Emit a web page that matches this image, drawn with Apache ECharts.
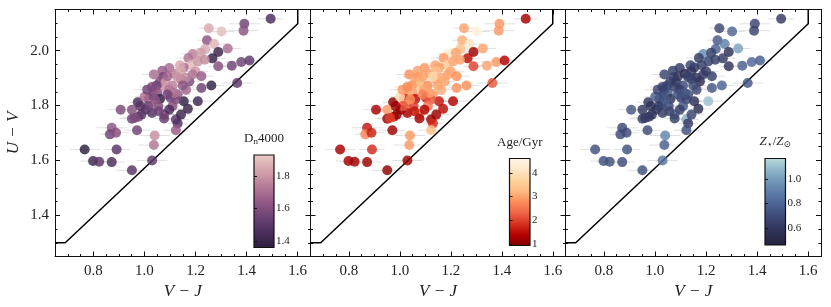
<!DOCTYPE html>
<html><head><meta charset="utf-8">
<script src="https://cdn.jsdelivr.net/npm/echarts@6/dist/echarts.min.js"></script>
<style>html,body{margin:0;padding:0;background:#fff}#c{width:831px;height:307px}</style>
</head><body><div id="c"></div>
<script>
// V-J colour of each galaxy
const vj = [1.494,1.391,1.252,1.302,1.388,1.245,1.273,1.238,1.326,1.289,
 1.266,1.189,1.220,1.172,1.342,1.379,1.411,1.183,1.154,1.139,
 1.097,1.070,1.117,1.143,1.073,1.060,1.083,1.110,1.077,1.097,
 1.143,1.176,1.163,1.223,1.262,1.363,1.048,1.030,1.017,1.050,
 1.061,1.103,1.130,1.154,1.209,1.170,1.026,1.004,1.030,0.974,
 0.907,0.951,0.951,0.977,1.077,1.077,1.123,1.130,1.143,0.971,
 0.872,0.865,0.889,1.040,1.123,1.037,0.766,0.891,0.799,0.823,
 0.872,1.030,0.951,
 1.200,1.001,1.015,1.054,0.988,0.962,1.041,1.090,1.037,1.123,1.110,1.209,1.163,1.011,1.189,
 1.037,1.130,1.150,1.117,1.090,1.030,0.984,1.097,1.057,1.223,1.289,1.236];
// U-V colour
const uv = [2.116,2.098,2.082,2.070,2.073,2.038,2.024,2.006,2.008,1.995,
 1.972,1.988,1.992,1.973,1.945,1.959,1.964,1.947,1.939,1.947,
 1.937,1.927,1.916,1.925,1.904,1.887,1.886,1.873,1.868,1.858,
 1.895,1.888,1.858,1.864,1.873,1.882,1.873,1.834,1.824,1.846,
 1.824,1.828,1.840,1.816,1.816,1.788,1.804,1.785,1.773,1.812,
 1.785,1.785,1.752,1.759,1.767,1.753,1.749,1.735,1.767,1.710,
 1.719,1.695,1.701,1.691,1.710,1.656,1.640,1.640,1.598,1.595,
 1.594,1.600,1.564,
 1.925,1.832,1.798,1.798,1.767,1.755,1.822,1.907,1.858,1.822,1.798,1.961,1.901,1.858,1.913,
 1.913,1.904,1.873,1.846,1.840,1.868,1.798,1.785,1.779,1.907,1.943,1.967];
// Dn4000
const dn4000 = [1.45,1.55,1.85,1.90,1.62,1.62,1.88,1.85,1.70,1.40,
 1.38,1.75,1.82,1.72,1.55,1.55,1.50,1.90,1.70,1.85,
 1.70,1.65,1.75,1.85,1.55,1.60,1.82,1.75,1.80,1.72,
 1.70,1.58,1.68,1.55,1.38,1.50,1.55,1.50,1.55,1.60,
 1.38,1.55,1.65,1.38,1.42,1.40,1.82,1.48,1.48,1.45,
 1.58,1.60,1.55,1.58,1.62,1.52,1.50,1.48,1.40,1.55,
 1.62,1.55,1.60,1.78,1.65,1.72,1.35,1.48,1.42,1.50,
 1.45,1.50,1.48,
 1.80,1.70,1.55,1.60,1.50,1.58,1.62,1.68,1.65,1.58,1.60,1.80,1.78,1.55,1.72,
 1.70,1.80,1.62,1.72,1.55,1.58,1.48,1.45,1.55,1.65,1.60,1.78];
// Age / Gyr
const ageGyr = [1.3,2.9,3.0,4.4,2.9,3.1,4.1,3.3,3.0,1.2,
 1.5,4.2,3.0,2.9,3.0,2.9,1.4,3.6,2.9,3.0,
 2.9,3.0,3.0,3.3,2.8,3.0,3.2,2.8,3.4,3.0,
 2.9,3.0,3.1,2.8,2.8,2.2,2.9,1.8,2.0,2.9,
 1.5,1.8,2.9,1.6,1.4,1.5,2.9,1.2,1.3,1.1,
 1.3,2.9,1.2,1.6,2.8,1.3,1.2,1.8,1.2,1.2,
 1.6,2.7,1.7,2.9,3.3,2.9,1.3,1.8,1.3,1.2,
 1.2,1.2,1.1,
 3.0,3.9,2.2,2.0,1.1,2.0,2.8,3.0,3.2,2.2,2.5,3.0,3.1,2.9,3.0,
 2.8,3.8,3.0,3.0,2.6,2.7,1.2,1.4,1.6,2.8,2.0,3.0];
// Z*/Zsun
const zStar = [0.62,0.66,0.68,0.80,0.66,0.75,0.90,0.78,1.02,0.56,
 0.62,0.95,0.64,0.62,0.78,0.82,0.78,0.64,0.60,0.66,
 0.62,0.64,0.50,0.60,0.66,0.64,0.60,0.70,0.64,0.62,
 0.66,0.52,0.66,0.74,0.80,0.74,0.66,0.70,0.64,0.74,
 0.58,0.64,0.70,0.55,1.10,0.54,0.70,0.60,0.62,0.60,
 0.74,0.60,0.64,0.60,0.88,0.64,1.05,0.62,0.66,0.70,
 0.68,0.70,0.70,0.92,0.72,0.78,0.72,0.72,0.72,0.72,
 0.70,0.86,0.72,
 0.62,0.78,0.64,0.70,0.60,0.62,0.76,0.60,0.72,0.66,0.74,0.66,0.60,0.66,0.62,
 0.66,0.64,0.70,0.74,0.72,0.64,0.58,0.64,0.66,0.64,0.58,0.64];
// measurement errors on V-J and U-V
const vjErr = [0.05,0.06,0.04,0.05,0.06,0.04,0.05,0.04,0.05,0.04,
 0.05,0.04,0.04,0.05,0.05,0.06,0.05,0.04,0.04,0.05,
 0.04,0.05,0.04,0.05,0.06,0.04,0.05,0.04,0.05,0.04,
 0.05,0.04,0.05,0.04,0.05,0.06,0.05,0.04,0.06,0.04,
 0.05,0.04,0.05,0.04,0.06,0.05,0.05,0.04,0.05,0.04,
 0.05,0.06,0.05,0.04,0.05,0.04,0.05,0.04,0.05,0.05,
 0.06,0.04,0.05,0.06,0.05,0.06,0.06,0.05,0.05,0.05,
 0.05,0.06,0.06,
 0.05,0.04,0.05,0.05,0.04,0.05,0.04,0.05,0.05,0.04,0.05,0.05,0.04,0.05,0.05,
 0.05,0.04,0.05,0.04,0.05,0.05,0.04,0.05,0.05,0.05,0.04,0.05];
const uvErr = [0.015,0.015,0.012,0.015,0.015,0.012,0.015,0.012,0.015,0.012,
 0.012,0.015,0.012,0.012,0.015,0.015,0.015,0.012,0.012,0.015,
 0.012,0.012,0.015,0.012,0.015,0.012,0.012,0.015,0.012,0.012,
 0.015,0.012,0.012,0.015,0.012,0.015,0.012,0.015,0.012,0.012,
 0.015,0.012,0.012,0.015,0.015,0.012,0.012,0.015,0.012,0.015,
 0.015,0.012,0.015,0.012,0.012,0.015,0.012,0.015,0.012,0.015,
 0.015,0.015,0.012,0.015,0.012,0.015,0.015,0.015,0.015,0.012,
 0.015,0.015,0.015,
 0.012,0.012,0.015,0.012,0.012,0.015,0.012,0.012,0.015,0.012,0.012,0.015,0.012,0.012,0.015,
 0.012,0.015,0.012,0.012,0.015,0.012,0.015,0.012,0.012,0.015,0.012,0.012];

// UVJ quiescent boundary
const boundaryVJ = [0.65, 0.69, 1.6, 1.6];
const boundaryUV = [1.30, 1.30, 2.098, 2.15];

const xRange = [0.65, 1.65];
const yRange = [1.25, 2.15];
const xMajorTicks = [0.8, 1.0, 1.2, 1.4, 1.6];
const yMajorTicks = [1.4, 1.6, 1.8, 2.0];
const minorStep = 0.05;

const dnRange = [1.36, 1.93];
const ageRange = [0.94, 4.6];
const zRange = [0.46, 1.17];
const dnTicks = [1.4, 1.6, 1.8];
const ageTicks = [1, 2, 3, 4];
const zTicks = [0.6, 0.8, 1.0];

const dnColors = ['#2d1e3e','#4b2d5c','#6e4275','#955a87','#b87d98','#d4a3ab','#ebcbc6'];
const ageColors = ['#7f0000','#b30000','#d7301f','#ef6548','#fc8d59','#fdbb84','#fdd49e','#fee8c8','#fff7ec'];
const zColors = ['#24213d','#2f3359','#3d4a78','#4f6898','#6689b0','#86aec5','#b9dcdb'];

const FONT = '"Liberation Serif", "DejaVu Serif", serif';
const TXT = '#222';

const panels = [
  {left:55, width:255.5, values:dn4000, range:dnRange, colors:dnColors, ticks:dnTicks, fmt:v=>v.toFixed(1),
   cb:{left:254, top:155, width:20, height:92.5}, title:'D{s|n}4000', yLabels:true},
  {left:310.5, width:255, values:ageGyr, range:ageRange, colors:ageColors, ticks:ageTicks, fmt:v=>String(Math.round(v)),
   cb:{left:509.5, top:158.5, width:20.5, height:87}, title:'Age/Gyr', yLabels:false},
  {left:565.5, width:255.5, values:zStar, range:zRange, colors:zColors, ticks:zTicks, fmt:v=>v.toFixed(1),
   cb:{left:765, top:158.5, width:20.5, height:86.5}, title:'{i|Z}{s|⋆}/{i|Z}{s|⊙}', yLabels:false}
];

const grid = [], xAxis = [], yAxis = [], series = [], visualMap = [];
const lineStyle = {color:'#111', width:1};

panels.forEach((p, i) => {
  grid.push({left:p.left, top:9.5, width:p.width, height:247, containLabel:false});
});
panels.forEach((p, i) => {
  grid.push({left:p.cb.left, top:p.cb.top, width:p.cb.width, height:p.cb.height, show:true,
    borderColor:'#111', borderWidth:1.2,
    backgroundColor: new echarts.graphic.LinearGradient(0,0,0,1,
      p.colors.slice().reverse().map((c,k,a)=>({offset:k/(a.length-1), color:c})))});
});

panels.forEach((p, i) => {
  const base = {gridIndex:i, type:'value', min:xRange[0], max:xRange[1], splitLine:{show:false}};
  xAxis.push(Object.assign({}, base, {position:'bottom',
    axisLine:{show:true, onZero:false, lineStyle},
    axisTick:{show:true, inside:true, length:5, customValues:xMajorTicks, lineStyle},
    axisLabel:{show:true, customValues:xMajorTicks, formatter:v=>v.toFixed(1), margin:7,
      fontFamily:FONT, fontSize:15, color:TXT},
    name:'V − J', nameLocation:'middle', nameGap:25,
    nameTextStyle:{fontFamily:FONT, fontSize:17, fontStyle:'italic', color:TXT}}));
  xAxis.push(Object.assign({}, base, {position:'bottom', interval:minorStep,
    axisLine:{show:false}, axisTick:{show:true, inside:true, length:2.5, lineStyle}, axisLabel:{show:false}}));
  xAxis.push(Object.assign({}, base, {position:'top',
    axisLine:{show:true, onZero:false, lineStyle},
    axisTick:{show:true, inside:true, length:5, customValues:xMajorTicks, lineStyle}, axisLabel:{show:false}}));
  xAxis.push(Object.assign({}, base, {position:'top', interval:minorStep,
    axisLine:{show:false}, axisTick:{show:true, inside:true, length:2.5, lineStyle}, axisLabel:{show:false}}));

  const ybase = {gridIndex:i, type:'value', min:yRange[0], max:yRange[1], splitLine:{show:false}};
  yAxis.push(Object.assign({}, ybase, {position:'left',
    axisLine:{show:true, onZero:false, lineStyle},
    axisTick:{show:true, inside:true, length:5, customValues:yMajorTicks, lineStyle},
    axisLabel:{show:p.yLabels, customValues:yMajorTicks, formatter:v=>v.toFixed(1), margin:6,
      fontFamily:FONT, fontSize:15, color:TXT},
    name:p.yLabels ? 'U − V' : '', nameLocation:'middle', nameGap:33,
    nameTextStyle:{fontFamily:FONT, fontSize:17, fontStyle:'italic', color:TXT}}));
  yAxis.push(Object.assign({}, ybase, {position:'left', interval:minorStep,
    axisLine:{show:false}, axisTick:{show:true, inside:true, length:2.5, lineStyle}, axisLabel:{show:false}}));
  yAxis.push(Object.assign({}, ybase, {position:'right',
    axisLine:{show:true, onZero:false, lineStyle},
    axisTick:{show:true, inside:true, length:5, customValues:yMajorTicks, lineStyle}, axisLabel:{show:false}}));
  yAxis.push(Object.assign({}, ybase, {position:'right', interval:minorStep,
    axisLine:{show:false}, axisTick:{show:true, inside:true, length:2.5, lineStyle}, axisLabel:{show:false}}));
});

panels.forEach((p, i) => {
  xAxis.push({gridIndex:3+i, type:'value', position:'top', min:0, max:1,
    axisLine:{show:false}, axisTick:{show:false}, axisLabel:{show:false}, splitLine:{show:false},
    name:p.title, nameLocation:'middle', nameGap:9,
    nameTextStyle:{fontFamily:FONT, fontSize:13, color:TXT,
      rich:{s:{fontFamily:FONT, fontSize:9, color:TXT, verticalAlign:'bottom', padding:[6,0,0,0]},
            i:{fontFamily:FONT, fontSize:13, fontStyle:'italic', color:TXT}}}});
  yAxis.push({gridIndex:3+i, type:'value', position:'right', min:p.range[0], max:p.range[1],
    axisLine:{show:false}, splitLine:{show:false},
    axisTick:{show:true, inside:false, length:3, customValues:p.ticks, lineStyle:{color:'#111', width:1}},
    axisLabel:{show:true, customValues:p.ticks, formatter:p.fmt, margin:2, fontFamily:FONT, fontSize:11, color:TXT}});
});

panels.forEach((p, i) => {
  series.push({type:'scatter', xAxisIndex:i*4, yAxisIndex:i*4, z:3,
    symbolSize:10, itemStyle:{opacity:0.82},
    data: vj.map((x, k) => [x, uv[k], p.values[k]])});
  visualMap.push({type:'continuous', show:false, seriesIndex:i, dimension:2,
    min:p.range[0], max:p.range[1], inRange:{color:p.colors}});
});
panels.forEach((p, i) => {
  series.push({type:'line', xAxisIndex:i*4, yAxisIndex:i*4, z:2, symbol:'none', silent:true,
    lineStyle:{color:'#000', width:1.5},
    data: boundaryVJ.map((x, k) => [x, boundaryUV[k]])});
});
panels.forEach((p, i) => {
  series.push({type:'custom', xAxisIndex:i*4, yAxisIndex:i*4, z:1, silent:true,
    data: vj.map((x, k) => [x, uv[k], vjErr[k], uvErr[k]]),
    renderItem: (params, api) => {
      const x = api.value(0), y = api.value(1), ex = api.value(2), ey = api.value(3);
      const a = api.coord([x - ex, y]), b = api.coord([x + ex, y]);
      const c = api.coord([x, y - ey]), d = api.coord([x, y + ey]);
      const st = {stroke:'#c8c8c8', lineWidth:1, opacity:0.55};
      return {type:'group', children:[
        {type:'line', shape:{x1:a[0], y1:a[1], x2:b[0], y2:b[1]}, style:st},
        {type:'line', shape:{x1:c[0], y1:c[1], x2:d[0], y2:d[1]}, style:st}]};
    }});
});

const chart = echarts.init(document.getElementById('c'));
chart.setOption({animation:false, backgroundColor:'#fff', grid, xAxis, yAxis, series, visualMap});
</script></body></html>
